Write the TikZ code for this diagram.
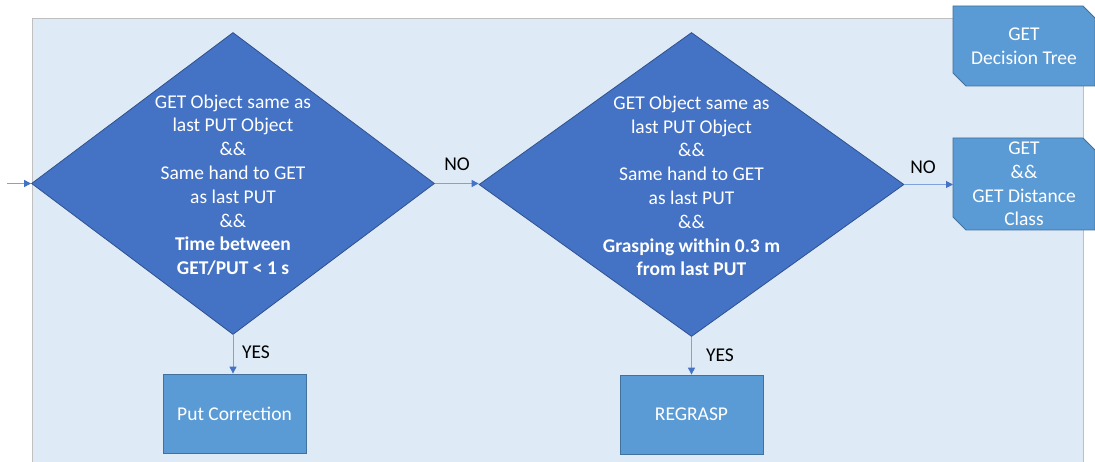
\documentclass[tikz,border=0pt]{standalone}
\usepackage{fontspec}
\setmainfont{Carlito}
\usetikzlibrary{shapes.geometric,arrows.meta}
\definecolor{panelfill}{HTML}{DEEAF6}
\definecolor{panelline}{HTML}{BFBFBF}
\definecolor{diafill}{HTML}{4472C4}
\definecolor{dialine}{HTML}{2F528F}
\definecolor{boxfill}{HTML}{5B9BD5}
\definecolor{boxline}{HTML}{41719C}
\definecolor{conline}{HTML}{7FA2DA}
\definecolor{conhead}{HTML}{4472C4}
\tikzset{
  txt/.style={font=\fontsize{19.5}{23.8}\selectfont, text=white, align=center, inner sep=0pt},
  lbl/.style={font=\fontsize{19.5}{23.8}\selectfont, text=black, inner sep=0pt},
  decision/.style={diamond, draw=dialine, fill=diafill, line width=0.8pt, minimum width=403pt, minimum height=302pt, inner sep=0pt},
  actbox/.style={rectangle, draw=boxline, fill=boxfill, line width=0.8pt, minimum width=143pt, minimum height=79pt, txt},
  tagshape/.style={draw=boxline, fill=boxfill, line width=0.8pt},
  conn/.style={draw=conline, line width=1pt, -{Triangle[length=7pt,width=7pt,color=conhead]}}
}
\begin{document}
\begin{tikzpicture}[x=1pt,y=-1pt]
\useasboundingbox (0,0) rectangle (1095,462);
\fill[white] (0,0) rectangle (1095,462);
\draw[fill=panelfill, draw=panelline, line width=0.8pt] (32,18) rectangle (1083,470);

\node[decision] (d1) at (233,183.5) {};
\node[txt] (d1t) at (233,185) {GET Object same as\\last PUT Object\\\&\&\\Same hand to GET\\as last PUT\\\&\&\\\textbf{Time between}\\\textbf{GET/PUT < 1 s}};
\node[decision, minimum width=425pt, minimum height=304pt] (d2) at (691.5,184.5) {};
\node[txt] (d2t) at (691.5,186) {GET Object same as\\last PUT Object\\\&\&\\Same hand to GET\\as last PUT\\\&\&\\\textbf{Grasping within 0.3 m}\\\textbf{from last PUT}};

\node[actbox] (b1) at (234.5,413.5) {Put Correction};
\node[actbox] (b2) at (691.5,414.5) {REGRASP};

\draw[tagshape] (953,6) -- (1083,6) -- (1095,18) -- (1095,86) -- (966,86) -- (953,73) -- cycle;
\node[txt] (t1t) at (1024,46) {GET\\Decision Tree};
\draw[tagshape] (953,138) -- (1083,138) -- (1095,150) -- (1095,230) -- (966,230) -- (953,217) -- cycle;
\node[txt] (t2t) at (1024,184) {GET\\\&\&\\GET Distance\\Class};
\coordinate (t2w) at (953,184);

\coordinate (start) at (7,183.5);
\draw[conn] (start) -- (d1.west);
\draw[conn] (d1.east) -- (d2.west |- d1.east);
\draw[conn] (d2.east) -- (t2w |- d2.east);
\draw[conn] (d1.south) -- (d1.south |- b1.north);
\draw[conn] (d2.south) -- (b2.north);

\node[lbl] (no1) at (457,164) {NO};
\node[lbl] (no2) at (923,167) {NO};
\node[lbl] (yes1) at (256,352) {YES};
\node[lbl] (yes2) at (720,355) {YES};
\end{tikzpicture}
\end{document}
